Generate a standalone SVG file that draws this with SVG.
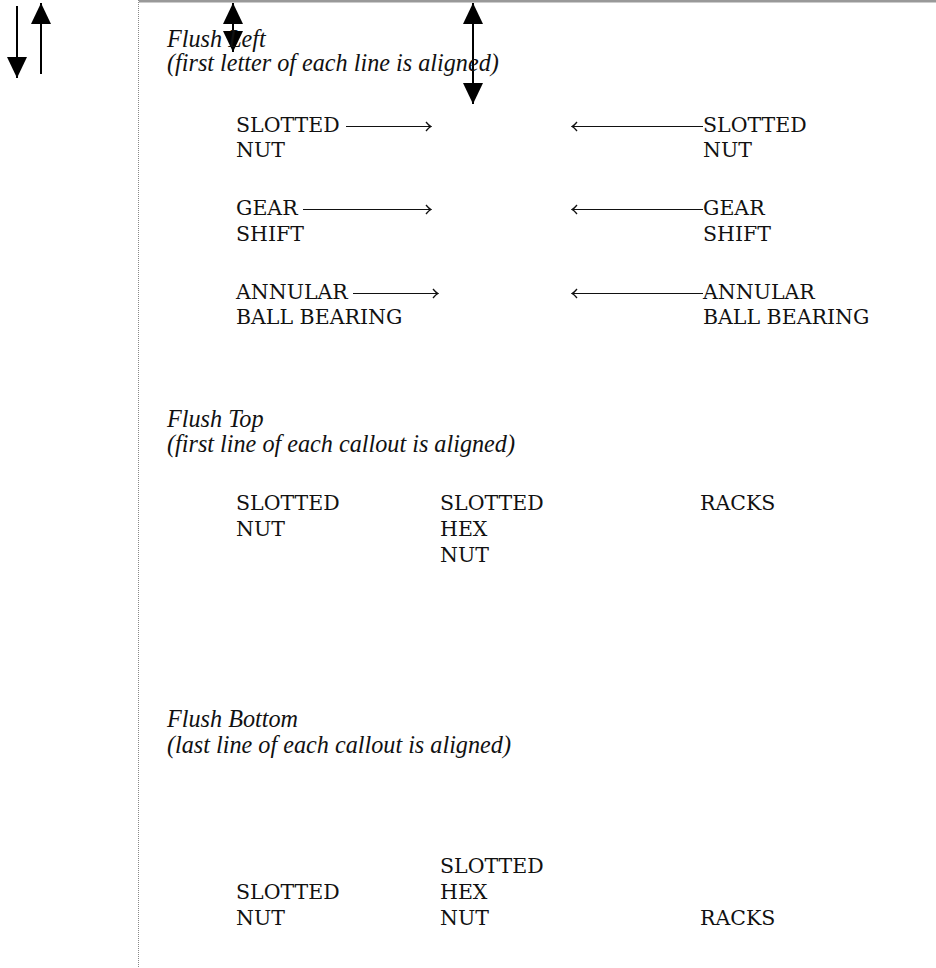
<svg xmlns="http://www.w3.org/2000/svg" width="936" height="968" viewBox="0 0 936 968">
<style>
.t{font-family:'DejaVu Serif','Liberation Serif',serif;font-size:20.5px;fill:#111}
.h{font-family:'Liberation Serif','DejaVu Serif',serif;font-size:24.2px;font-style:italic;fill:#111}
.thin{stroke:#111;stroke-width:1.2;fill:none}
.thick{stroke:#000;stroke-width:2;fill:none}
</style>
<defs>
<marker id="tri" viewBox="0 0 21 20" refX="21" refY="10" markerWidth="21" markerHeight="20" markerUnits="userSpaceOnUse" orient="auto-start-reverse">
<path d="M0,0 L21,10 L0,20 Z" fill="#000"/>
</marker>
<marker id="open" viewBox="-7 -6 8 12" refX="0" refY="0" markerWidth="8" markerHeight="12" markerUnits="userSpaceOnUse" orient="auto-start-reverse">
<path d="M-5,-4.5 Q-2,-0.8 0,0 Q-2,0.8 -5,4.5" fill="none" stroke="#111" stroke-width="1.3"/>
</marker>
</defs>
<rect width="936" height="968" fill="#fff"/>
<g id="frame">
<line x1="139" y1="1" x2="936" y2="1" stroke="#999" stroke-width="3"/>
<line x1="138.5" y1="0" x2="138.5" y2="968" stroke="#888" stroke-width="1" stroke-dasharray="1 1"/>
</g>
<g id="connectors">
<line class="thick" x1="17" y1="6" x2="17" y2="78" marker-end="url(#tri)"/>
<line class="thick" x1="41" y1="74" x2="41" y2="3" marker-end="url(#tri)"/>
<line class="thick" x1="233" y1="3" x2="233" y2="52" marker-start="url(#tri)" marker-end="url(#tri)"/>
<line class="thick" x1="473" y1="3" x2="473" y2="104" marker-start="url(#tri)" marker-end="url(#tri)"/>
<line class="thin" x1="346" y1="126.5" x2="431" y2="126.5" marker-end="url(#open)"/>
<line class="thin" x1="303" y1="209.5" x2="431" y2="209.5" marker-end="url(#open)"/>
<line class="thin" x1="353" y1="293.5" x2="438" y2="293.5" marker-end="url(#open)"/>
<line class="thin" x1="703" y1="126.5" x2="572" y2="126.5" marker-end="url(#open)"/>
<line class="thin" x1="703" y1="209.5" x2="572" y2="209.5" marker-end="url(#open)"/>
<line class="thin" x1="703" y1="293.5" x2="572" y2="293.5" marker-end="url(#open)"/>
</g>
<g id="flush-left-title">
<text class="h" x="167" y="47">Flush Left</text>
<text class="h" x="167" y="71">(first letter of each line is aligned)</text>
</g>
<g id="fl-slotted-nut-l"><text class="t" x="236" y="132">SLOTTED</text><text class="t" x="236" y="157">NUT</text></g>
<g id="fl-gear-shift-l"><text class="t" x="236" y="215">GEAR</text><text class="t" x="236" y="241">SHIFT</text></g>
<g id="fl-annular-l"><text class="t" x="236" y="299">ANNULAR</text><text class="t" x="236" y="324">BALL BEARING</text></g>
<g id="fl-slotted-nut-r"><text class="t" x="703" y="132">SLOTTED</text><text class="t" x="703" y="157">NUT</text></g>
<g id="fl-gear-shift-r"><text class="t" x="703" y="215">GEAR</text><text class="t" x="703" y="241">SHIFT</text></g>
<g id="fl-annular-r"><text class="t" x="703" y="299">ANNULAR</text><text class="t" x="703" y="324">BALL BEARING</text></g>
<g id="flush-top-title">
<text class="h" x="167" y="427">Flush Top</text>
<text class="h" x="167" y="452">(first line of each callout is aligned)</text>
</g>
<g id="ft-slotted-nut"><text class="t" x="236" y="510">SLOTTED</text><text class="t" x="236" y="536">NUT</text></g>
<g id="ft-slotted-hex-nut"><text class="t" x="440" y="510">SLOTTED</text><text class="t" x="440" y="536">HEX</text><text class="t" x="440" y="562">NUT</text></g>
<g id="ft-racks"><text class="t" x="700" y="510">RACKS</text></g>
<g id="flush-bottom-title">
<text class="h" x="167" y="727">Flush Bottom</text>
<text class="h" x="167" y="753">(last line of each callout is aligned)</text>
</g>
<g id="fb-slotted-nut"><text class="t" x="236" y="899">SLOTTED</text><text class="t" x="236" y="925">NUT</text></g>
<g id="fb-slotted-hex-nut"><text class="t" x="440" y="873">SLOTTED</text><text class="t" x="440" y="899">HEX</text><text class="t" x="440" y="925">NUT</text></g>
<g id="fb-racks"><text class="t" x="700" y="925">RACKS</text></g>
</svg>
